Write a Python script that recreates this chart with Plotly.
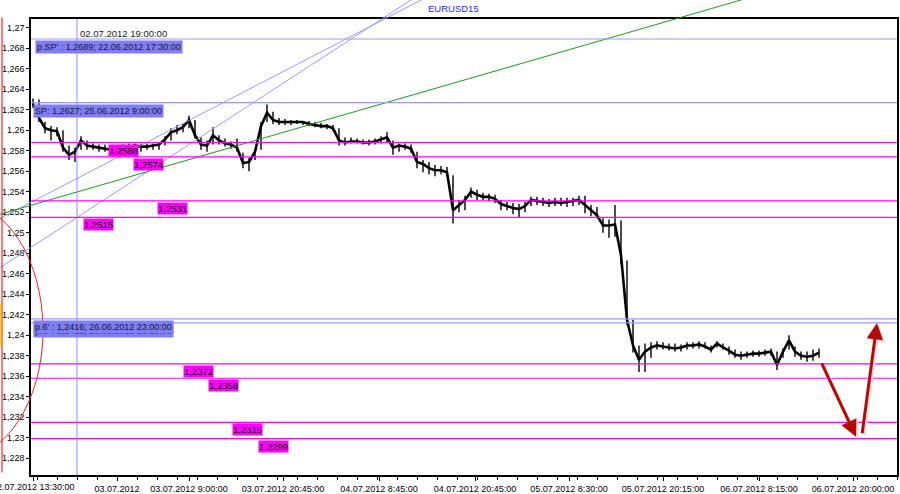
import plotly.graph_objects as go

# ---------------- data (EURUSD, 15-minute bars, sampled every 3rd bar) ----------------
high = [1.2631, 1.2630, 1.2608, 1.2604, 1.2603, 1.2600, 1.2585, 1.2583, 1.2594, 1.2590,
        1.2587, 1.2586, 1.2586, 1.2585, 1.2585, 1.2586, 1.2587, 1.2587, 1.2587, 1.2587,
        1.2587, 1.2588, 1.2594, 1.2602, 1.2605, 1.2606, 1.2614, 1.2610, 1.2593, 1.2590,
        1.2603, 1.2595, 1.2592, 1.2589, 1.2592, 1.2578, 1.2573, 1.2581, 1.2608, 1.2625,
        1.2618, 1.2612, 1.2611, 1.2610, 1.2610, 1.2609, 1.2609, 1.2608, 1.2607, 1.2606,
        1.2605, 1.2602, 1.2593, 1.2593, 1.2592, 1.2591, 1.2591, 1.2592, 1.2594, 1.2598,
        1.2590, 1.2587, 1.2587, 1.2586, 1.2579, 1.2571, 1.2569, 1.2566, 1.2565, 1.2564,
        1.2556, 1.2532, 1.2536, 1.2544, 1.2542, 1.2539, 1.2538, 1.2537, 1.2532, 1.2530,
        1.2529, 1.2528, 1.2530, 1.2535, 1.2535, 1.2534, 1.2533, 1.2534, 1.2534, 1.2534,
        1.2534, 1.2536, 1.2536, 1.2527, 1.2525, 1.2514, 1.2513, 1.2527, 1.2512, 1.2473,
        1.2415, 1.2390, 1.2392, 1.2393, 1.2394, 1.2393, 1.2392, 1.2392, 1.2391, 1.2393,
        1.2393, 1.2394, 1.2393, 1.2390, 1.2394, 1.2392, 1.2389, 1.2386, 1.2384, 1.2384,
        1.2385, 1.2385, 1.2386, 1.2387, 1.2384, 1.2387, 1.2400, 1.2389, 1.2384, 1.2384,
        1.2386, 1.2387]
low = [1.2622, 1.2608, 1.2597, 1.2590, 1.2594, 1.2579, 1.2571, 1.2569, 1.2581, 1.2581,
       1.2581, 1.2579, 1.2579, 1.2578, 1.2576, 1.2579, 1.2579, 1.2580, 1.2579, 1.2581,
       1.2581, 1.2581, 1.2585, 1.2590, 1.2596, 1.2598, 1.2602, 1.2592, 1.2581, 1.2579,
       1.2586, 1.2586, 1.2584, 1.2582, 1.2579, 1.2563, 1.2560, 1.2571, 1.2581, 1.2608,
       1.2606, 1.2605, 1.2605, 1.2605, 1.2606, 1.2605, 1.2604, 1.2603, 1.2602, 1.2601,
       1.2599, 1.2585, 1.2585, 1.2587, 1.2587, 1.2586, 1.2585, 1.2586, 1.2587, 1.2588,
       1.2576, 1.2579, 1.2581, 1.2578, 1.2563, 1.2559, 1.2557, 1.2555, 1.2557, 1.2555,
       1.2509, 1.2520, 1.2522, 1.2534, 1.2532, 1.2532, 1.2531, 1.2529, 1.2522, 1.2522,
       1.2518, 1.2515, 1.2520, 1.2526, 1.2527, 1.2526, 1.2525, 1.2526, 1.2526, 1.2525,
       1.2526, 1.2527, 1.2519, 1.2516, 1.2514, 1.2500, 1.2495, 1.2496, 1.2469, 1.2410,
       1.2383, 1.2364, 1.2364, 1.2378, 1.2386, 1.2386, 1.2385, 1.2384, 1.2384, 1.2386,
       1.2387, 1.2387, 1.2387, 1.2383, 1.2388, 1.2386, 1.2381, 1.2378, 1.2376, 1.2378,
       1.2379, 1.2379, 1.2380, 1.2380, 1.2366, 1.2378, 1.2386, 1.2379, 1.2376, 1.2374,
       1.2375, 1.2378]
close = [1.2626, 1.2612, 1.2602, 1.2600, 1.2599, 1.2583, 1.2576, 1.2579, 1.2590, 1.2585,
         1.2584, 1.2583, 1.2582, 1.2581, 1.2581, 1.2583, 1.2584, 1.2585, 1.2584, 1.2584,
         1.2585, 1.2586, 1.2591, 1.2598, 1.2600, 1.2603, 1.2610, 1.2595, 1.2586, 1.2585,
         1.2595, 1.2590, 1.2587, 1.2586, 1.2583, 1.2568, 1.2569, 1.2579, 1.2604, 1.2617,
         1.2610, 1.2608, 1.2608, 1.2608, 1.2608, 1.2608, 1.2606, 1.2605, 1.2604, 1.2604,
         1.2602, 1.2590, 1.2588, 1.2589, 1.2589, 1.2588, 1.2588, 1.2589, 1.2591, 1.2593,
         1.2583, 1.2585, 1.2584, 1.2582, 1.2569, 1.2567, 1.2563, 1.2561, 1.2561, 1.2559,
         1.2522, 1.2527, 1.2532, 1.2540, 1.2537, 1.2535, 1.2535, 1.2533, 1.2528, 1.2526,
         1.2524, 1.2523, 1.2526, 1.2532, 1.2531, 1.2530, 1.2529, 1.2530, 1.2529, 1.2530,
         1.2531, 1.2532, 1.2527, 1.2522, 1.2517, 1.2507, 1.2507, 1.2508, 1.2478, 1.2415,
         1.2390, 1.2376, 1.2384, 1.2388, 1.2390, 1.2389, 1.2388, 1.2387, 1.2388, 1.2390,
         1.2390, 1.2391, 1.2389, 1.2386, 1.2392, 1.2388, 1.2385, 1.2381, 1.2380, 1.2381,
         1.2382, 1.2382, 1.2383, 1.2384, 1.2371, 1.2384, 1.2395, 1.2384, 1.2380, 1.2379,
         1.2380, 1.2383]
# bar number (15-minute bars counted from 02.07.2012 13:30), every 3rd bar
bar = list(range(0, 3 * len(close), 3))

tick_bars = [0, 42, 78, 125, 173, 221, 268, 315, 363, 410]
tick_labels = ["02.07.2012 13:30:00", "03.07.2012", "03.07.2012 9:00:00",
               "03.07.2012 20:45:00", "04.07.2012 8:45:00", "04.07.2012 20:45:00",
               "05.07.2012 8:30:00", "05.07.2012 20:15:00", "06.07.2012 8:15:00",
               "06.07.2012 20:00:00"]

price_ticks = [1.228, 1.230, 1.232, 1.234, 1.236, 1.238, 1.240, 1.242, 1.244, 1.246, 1.248,
               1.250, 1.252, 1.254, 1.256, 1.258, 1.260, 1.262, 1.264, 1.266, 1.268, 1.270]
price_tick_labels = ["1,228", "1,23", "1,232", "1,234", "1,236", "1,238", "1,24", "1,242",
                     "1,244", "1,246", "1,248", "1,25", "1,252", "1,254", "1,256", "1,258",
                     "1,26", "1,262", "1,264", "1,266", "1,268", "1,27"]

# magenta levels
level_values = [1.2588, 1.2574, 1.2531, 1.2515, 1.2372, 1.2358, 1.2315, 1.2299]
level_labels = ["1,2588", "1,2574", "1,2531", "1,2515", "1,2372", "1,2358", "1,2315", "1,2299"]
level_label_bars = [37.5, 50, 62, 25, 75, 87.5, 99.5, 112.5]

# blue pivot levels
pivot_values = [1.2689, 1.2627, 1.2412, 1.2416]
pivot_labels = ["p.SP' : 1,2689; 22.06.2012 17:30:00", "SP: 1,2627; 25.06.2012 9:00:00",
                "p.6' : 1,2412; 28.06.2012 23:15:00", "p.6' : 1,2416; 26.06.2012 23:00:00"]
pivot_label_bars = [1, 0, 0, 0]

cursor_bar = 22
cursor_label = "02.07.2012 19:00:00"

# trend lines: (bar, price) end points
blue_line_1 = ([-16.5, 200], [1.2514, 1.2733])
blue_line_2 = ([-16.5, 200], [1.2466, 1.2741])
green_line = ([-16.5, 400], [1.2518, 1.2753])

# red arrows: (tail bar, tail price, head bar, head price)
arrows = [(394, 1.2374, 411.5, 1.2301), (414.5, 1.2303, 422, 1.2412)]

# ---------------- geometry ----------------
W, H = 900, 494
XD = [31 / W, 897 / W]
YD = [19 / H, 475 / H]
xr = [-1, 432]
yr = [1.22636, 1.27085]
sx = (xr[1] - xr[0]) / (XD[1] - XD[0])
sy = (yr[1] - yr[0]) / (YD[1] - YD[0])
x2r = [xr[0] - XD[0] * sx, xr[1] + (1 - XD[1]) * sx]
y2r = [yr[0] - YD[0] * sy, yr[1] + (1 - YD[1]) * sy]

FONT = "Liberation Sans, Arial, sans-serif"
BLUE_LINE = "#9a9aff"
BOX_BLUE = "#7e7ef2"
MAGENTA = "#ff00ff"

fig = go.Figure()

# price bars: close line with high-low ranges
fig.add_trace(go.Scatter(
    x=bar, y=close, mode="lines",
    line=dict(color="black", width=2.6),
    error_y=dict(type="data", symmetric=False,
                 array=[h - c for h, c in zip(high, close)],
                 arrayminus=[c - l for c, l in zip(close, low)],
                 width=0, thickness=1.5, color="#111111"),
    hoverinfo="skip"))

# overlay lines (drawn over whole window)
for (xs, ys), col in [(blue_line_1, BLUE_LINE), (blue_line_2, BLUE_LINE), (green_line, "#1a9a1a")]:
    fig.add_trace(go.Scatter(x=xs, y=ys, mode="lines", line=dict(color=col, width=1),
                             xaxis="x2", yaxis="y2", hoverinfo="skip"))

# horizontal levels
for v in level_values:
    fig.add_hline(y=v, line=dict(color=MAGENTA, width=1.2))
for v in pivot_values:
    fig.add_hline(y=v, line=dict(color=BLUE_LINE, width=1.2))
fig.add_vline(x=cursor_bar, line=dict(color="#8c8cff", width=1))

# left-side red ellipse, red line, yellow mark (overlay axes)
fig.add_shape(type="circle", xref="x2", yref="y2", x0=-78, x1=5, y0=1.2280, y1=1.2530,
              line=dict(color="#ff2020", width=1))
fig.add_shape(type="line", xref="x2", yref="y2", x0=-15.5, x1=-15.5, y0=1.2266, y1=1.2710,
              line=dict(color="#ff2020", width=1.2))
fig.add_shape(type="rect", xref="x2", yref="y2", x0=-16.6, x1=-15.9, y0=1.2389, y1=1.2431,
              line=dict(width=0), fillcolor="#ffe000")

annotations = []
for v, t, b in zip(level_values, level_labels, level_label_bars):
    annotations.append(dict(x=b, y=v, xref="x", yref="y", text=t, showarrow=False,
                            xanchor="left", yanchor="top", yshift=-1, bgcolor=MAGENTA,
                            borderpad=0, font=dict(family=FONT, size=9.5, color="black")))
for v, t, b in zip(pivot_values, pivot_labels, pivot_label_bars):
    annotations.append(dict(x=b, y=v, xref="x", yref="y", text=t, showarrow=False,
                            xanchor="left", yanchor="top", yshift=-1, bgcolor=BOX_BLUE,
                            borderpad=1, font=dict(family=FONT, size=9, color="#14143c")))
annotations.append(dict(x=cursor_bar, y=1.2694, xref="x", yref="y", text=cursor_label,
                        showarrow=False, xanchor="left", yanchor="middle", xshift=1,
                        font=dict(family=FONT, size=9.5, color="#202020")))
annotations.append(dict(x=426 / W, y=1 - 8.5 / H, xref="paper", yref="paper", text="EURUSD15",
                        showarrow=False, xanchor="left", yanchor="middle",
                        font=dict(family=FONT, size=9.5, color="#2a2aff")))
# first time label (partly off the window's left edge, as in the terminal)
annotations.append(dict(x=tick_bars[0], y=YD[0], xref="x", yref="paper", text=tick_labels[0],
                        showarrow=False, xanchor="center", yanchor="top", yshift=-5,
                        font=dict(family=FONT, size=9, color="black")))
for tb, tp, hb, hp in arrows:
    annotations.append(dict(x=hb, y=hp, ax=tb, ay=tp, xref="x", yref="y", axref="x", ayref="y",
                            text="", showarrow=True, arrowhead=2, arrowsize=1.1, arrowwidth=3,
                            arrowcolor="#dcdcdc", xshift=2, yshift=-2, standoff=0))
    annotations.append(dict(x=hb, y=hp, ax=tb, ay=tp, xref="x", yref="y", axref="x", ayref="y",
                            text="", showarrow=True, arrowhead=2, arrowsize=1.1, arrowwidth=3,
                            arrowcolor="#b40a0a", standoff=0))

fig.update_layout(
    width=W, height=H, margin=dict(l=0, r=0, t=0, b=0),
    paper_bgcolor="white", plot_bgcolor="rgba(0,0,0,0)", showlegend=False, hovermode=False,
    font=dict(family=FONT, size=9, color="black"),
    annotations=annotations,
    xaxis=dict(domain=XD, range=xr, tickmode="array", tickvals=tick_bars,
               ticktext=[""] + tick_labels[1:],
               ticks="outside", ticklen=4, tickcolor="black", showline=True, linecolor="black",
               linewidth=1.5, mirror=True, showgrid=False, zeroline=False,
               tickfont=dict(family=FONT, size=9, color="black"),
               minor=dict(tickmode="linear", tick0=42, dtick=10, ticks="outside", ticklen=3,
                          tickcolor="black")),
    yaxis=dict(domain=YD, range=yr, tickmode="array", tickvals=price_ticks,
               ticktext=price_tick_labels, ticks="outside", ticklen=3, tickcolor="black",
               showline=True, linecolor="black", linewidth=1.5, mirror=True, showgrid=False,
               zeroline=False, tickfont=dict(family=FONT, size=9, color="black")),
    xaxis2=dict(domain=[0, 1], range=x2r, visible=False, anchor="y2", fixedrange=True),
    yaxis2=dict(domain=[0, 1], range=y2r, visible=False, anchor="x2", fixedrange=True),
)

fig.write_html("out.html", config={"displayModeBar": False},
               post_script="document.body.style.margin='0px';")
